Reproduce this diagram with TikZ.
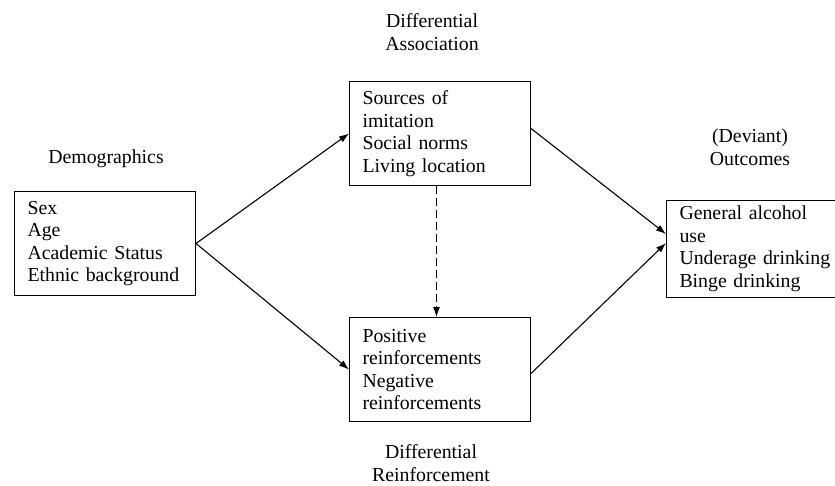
\documentclass[tikz,border=0pt]{standalone}
\usepackage{fontspec}
\setmainfont{Liberation Serif}
\usetikzlibrary{arrows.meta}
\tikzset{
  factorbox/.style={draw, line width=1pt, align=left, anchor=north west,
    inner xsep=13pt, text width=155pt, minimum width=181pt, minimum height=104pt},
  heading/.style={align=center},
  link/.style={line width=1.1pt, -{Latex[length=10pt,width=7pt]}}
}
\begin{document}
\begin{tikzpicture}[x=1pt, y=-1pt, font=\fontsize{19.8}{22.5}\selectfont]
        \useasboundingbox (0,0) rectangle (835,486);
        %% Boxes
        \node[factorbox] (demo) at (14,191) {Sex\\Age\\Academic Status\\Ethnic background};
        \node[factorbox] (assoc) at (349,81) {Sources of\\imitation\\Social norms\\Living location};
        \node[factorbox] (reinf) at (349,317) {Positive\\reinforcements\\Negative\\reinforcements};
        \node[factorbox, text width=170pt, minimum width=185pt, minimum height=97pt] (outc) at (666,200) {General alcohol\\use\\Underage drinking\\Binge drinking};
        %% Headings
        \node[heading] (demohead) at (106,159) {Demographics};
        \node[heading] (assochead) at (432,32) {Differential\\Association};
        \node[heading] (reinfhead) at (431,463) {Differential\\Reinforcement};
        \node[heading] (outchead) at (750,147) {(Deviant)\\Outcomes};
        %% Paths
        \draw[link] (demo.east) -- (assoc.west);
        \draw[link] (demo.east) -- (reinf.west);
        \draw[link] ([yshift=5pt]assoc.east) -- ([yshift=15pt]outc.west);
        \draw[link] ([yshift=-4pt]reinf.east) -- ([yshift=6pt]outc.west);
        \draw[link, dash pattern=on 8pt off 4pt] ([xshift=-3.5pt]assoc.south) -- ([xshift=-3.5pt]reinf.north);
    \end{tikzpicture}
\end{document}
